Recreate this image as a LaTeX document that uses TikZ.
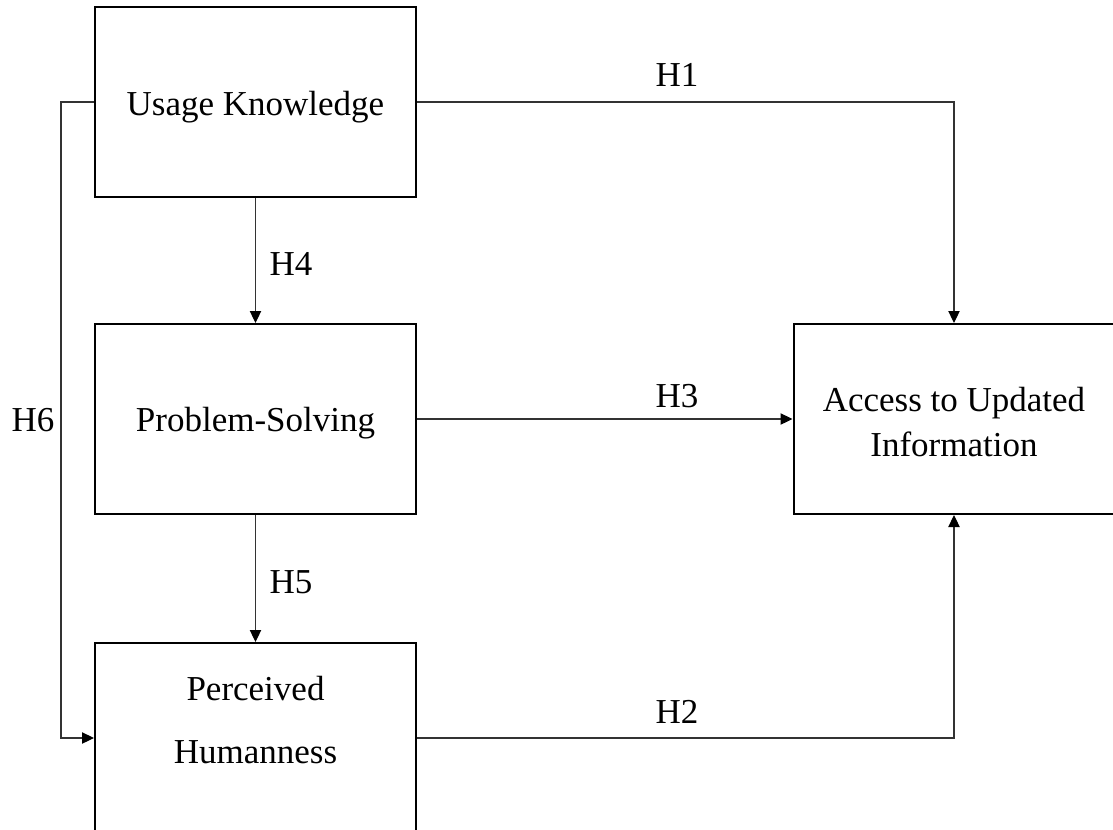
\documentclass[tikz,border=0pt]{standalone}
\usepackage{fontspec}
\setmainfont{Liberation Serif}
\usetikzlibrary{arrows.meta}
\begin{document}
\begin{tikzpicture}[x=0.75pt,y=-0.75pt,
  box/.style={draw=black,line width=1.5pt,minimum width=240.75pt,minimum height=142.5pt,inner sep=2pt},
  txt/.style={font=\fontsize{26.25}{33.75}\selectfont,inner sep=0pt,align=center},
  lab/.style={font=\fontsize{26.25}{33.75}\selectfont,inner sep=0pt,anchor=base},
  conn/.style={draw=black!80,line width=0.8pt,-{Triangle[length=9pt,width=8.5pt,black]}}]
\useasboundingbox (0,0) rectangle (1113,829);
\clip (0,0) rectangle (1113,829);
\node[box,label={[txt,yshift=-4pt]center:Usage Knowledge}] (uk) at (255.5,102) {};
\node[box,label={[txt,yshift=-3pt]center:Problem-Solving}] (ps) at (255.5,419) {};
\node[box,anchor=north] (ph) at (255.5,642) {};
\node[txt] (phtxt) at (255.5,720) {Perceived\\[13pt]Humanness};
\node[box,label={[txt,yshift=-2pt]center:Access to Updated\\Information}] (acc) at (954,419) {};
\draw[conn] (uk.east) -- (uk.east -| acc.north) -- (acc.north);
\draw[conn] (ps.east) -- (acc.west);
\draw[conn] (ph.east) -- (ph.east -| acc.south) -- (acc.south);
\draw[conn] (uk.south) -- (ps.north);
\draw[conn] (ps.south) -- (ph.north);
\draw[conn] (uk.west) -- ++(-33,0) |- (ph.west);
\node[lab] (h1) at (677,86) {H1};
\node[lab] (h3) at (677,407) {H3};
\node[lab] (h2) at (677,723) {H2};
\node[lab] (h4) at (291,275) {H4};
\node[lab] (h5) at (291,593) {H5};
\node[lab] (h6) at (33,431) {H6};
\end{tikzpicture}
\end{document}
